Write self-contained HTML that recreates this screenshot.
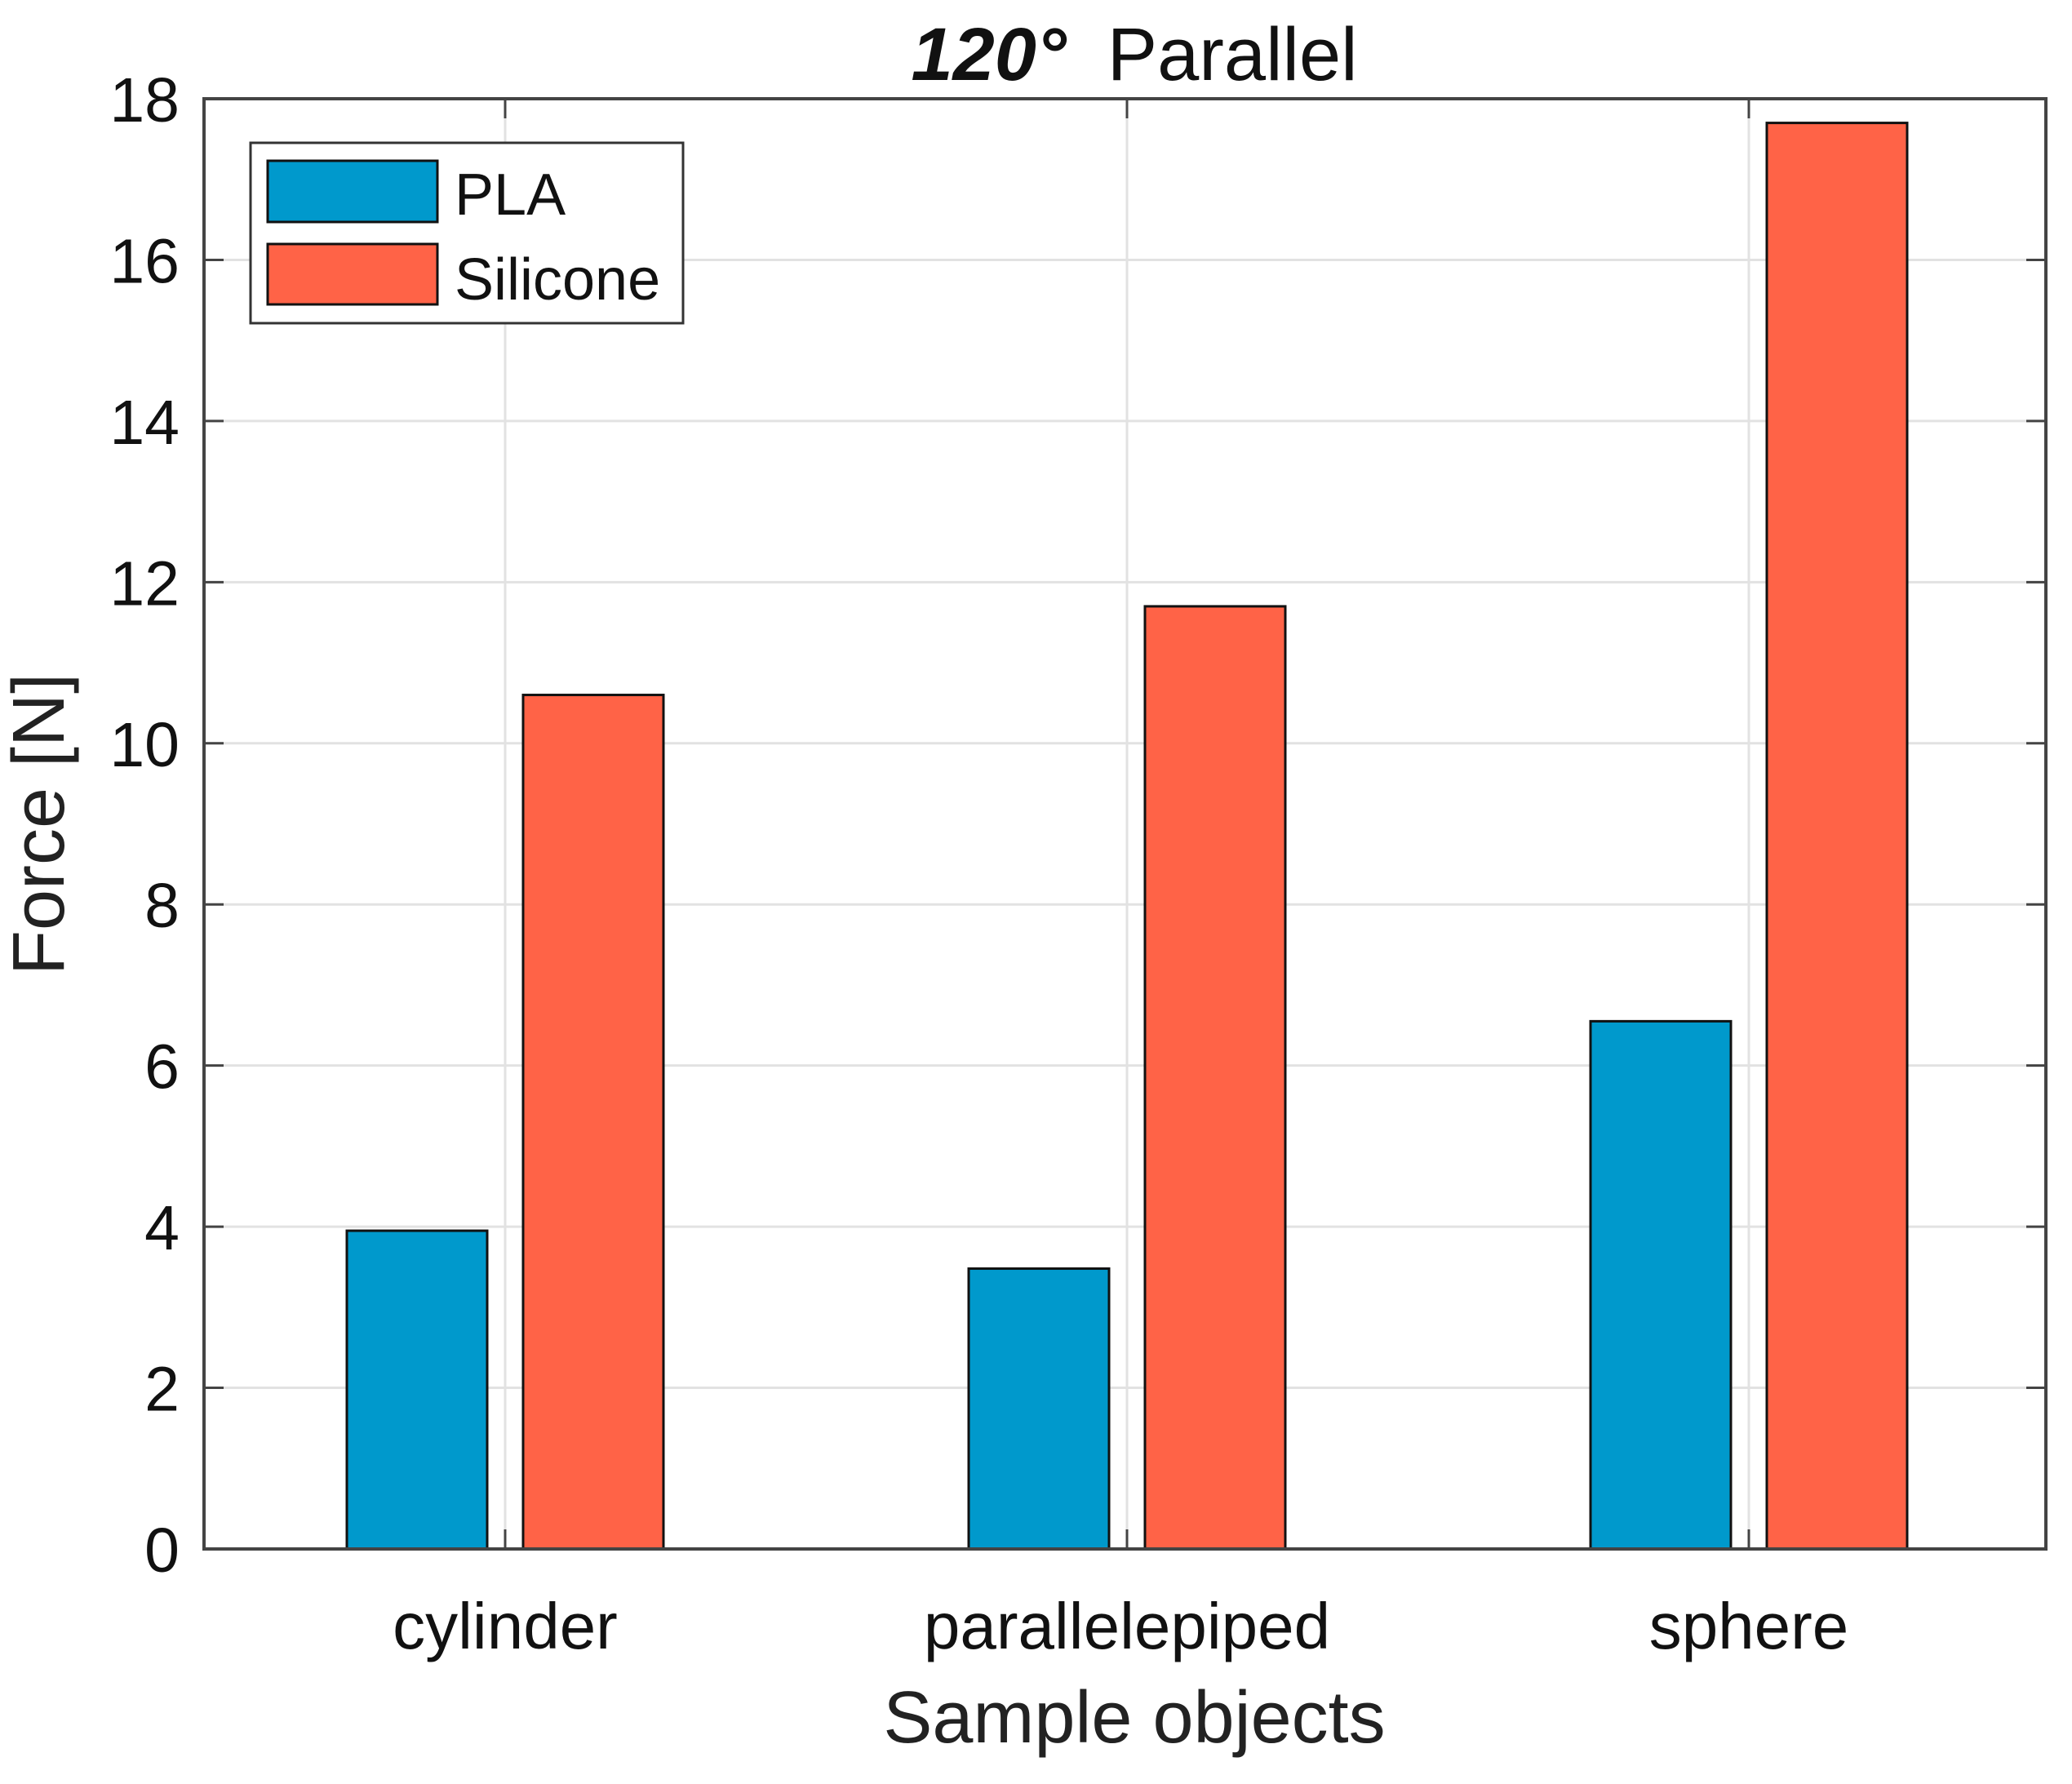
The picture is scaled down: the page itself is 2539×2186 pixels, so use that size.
<!DOCTYPE html>
<html><head><meta charset="utf-8"><style>
html,body{margin:0;padding:0;background:#fff}
svg{display:block;font-family:"Liberation Sans",Arial,sans-serif}
</style></head><body>
<svg id="chart" width="2539" height="2186" viewBox="0 0 2539 2186">
<g id="grid"></g>
<g id="bars"></g>
<g id="axes"></g>
<text x="1390" y="98" text-anchor="middle" font-size="92" fill="#111"><tspan font-weight="bold" font-style="italic">120°</tspan><tspan dx="50">Parallel</tspan></text>
<text transform="translate(78,1010) rotate(-90)" text-anchor="middle" font-size="90" fill="#222">Force [N]</text>
<text x="1390" y="2135" text-anchor="middle" font-size="90" fill="#222">Sample objects</text>
<g>
<rect x="307" y="175" width="530" height="221" fill="#fff" stroke="#333" stroke-width="3"/>
<rect x="328" y="197" width="208" height="75" fill="#0099cc" stroke="#111" stroke-width="3"/>
<text x="557" y="263" font-size="72" fill="#111">PLA</text>
<rect x="328" y="299" width="208" height="74" fill="#ff6347" stroke="#111" stroke-width="3"/>
<text x="557" y="367" font-size="72" fill="#111">Silicone</text>
</g>
</svg>
<script>
const categories = ["cylinder", "parallelepiped", "sphere"];
const plaValues = [3.95, 3.48, 6.55];
const siliconeValues = [10.6, 11.7, 17.7];
const yTicks = [0, 2, 4, 6, 8, 10, 12, 14, 16, 18];

const NS = "http://www.w3.org/2000/svg";
const L = 250, R = 2507, T = 121, B = 1898;
const yMax = 18;
function yScale(v){ return B - (v / yMax) * (B - T); }
function xScale(i){ return 619 + 762 * i; }
function mk(tag, attrs, parent){
  const e = document.createElementNS(NS, tag);
  for (const k in attrs) e.setAttribute(k, attrs[k]);
  parent.appendChild(e);
  return e;
}
const grid = document.getElementById("grid");
const bars = document.getElementById("bars");
const axes = document.getElementById("axes");

yTicks.forEach(function(t){
  const y = yScale(t);
  if (t > 0 && t < yMax) {
    const g = mk("line", {x1:L, x2:R, y1:y, y2:y, stroke:"#e2e2e2", "stroke-width":3}, grid);
    
    
  }
  const tl = mk("line", {x1:L, x2:L+24, y1:y, y2:y, stroke:"#444", "stroke-width":3}, axes);
  
  
  const tr = mk("line", {x1:R-24, x2:R, y1:y, y2:y, stroke:"#444", "stroke-width":3}, axes);
  
  
  const lab = mk("text", {x:220, y:y+28, "text-anchor":"end", "font-size":77, fill:"#111"}, axes);
  lab.textContent = t;
  
  
});

categories.forEach(function(c, i){
  const cx = xScale(i);
  const g = mk("line", {x1:cx, x2:cx, y1:T, y2:B, stroke:"#e2e2e2", "stroke-width":3}, grid);
  
  
  const b1 = mk("rect", {x:cx-194, y:yScale(plaValues[i]), width:172, height:B-yScale(plaValues[i]), fill:"#0099cc", stroke:"#111", "stroke-width":3}, bars);
  
  
  const b2 = mk("rect", {x:cx+22, y:yScale(siliconeValues[i]), width:172, height:B-yScale(siliconeValues[i]), fill:"#ff6347", stroke:"#111", "stroke-width":3}, bars);
  
  
  const tb = mk("line", {x1:cx, x2:cx, y1:B-24, y2:B, stroke:"#444", "stroke-width":3}, axes);
  
  
  const tt = mk("line", {x1:cx, x2:cx, y1:T, y2:T+24, stroke:"#444", "stroke-width":3}, axes);
  
  
  const lab = mk("text", {x:cx, y:2020, "text-anchor":"middle", "font-size":80, fill:"#111"}, axes);
  lab.textContent = c;
  
  
});

const frame = mk("rect", {x:L, y:T, width:R-L, height:B-T, fill:"none", stroke:"#444", "stroke-width":4}, axes);


</script>
</body></html>
